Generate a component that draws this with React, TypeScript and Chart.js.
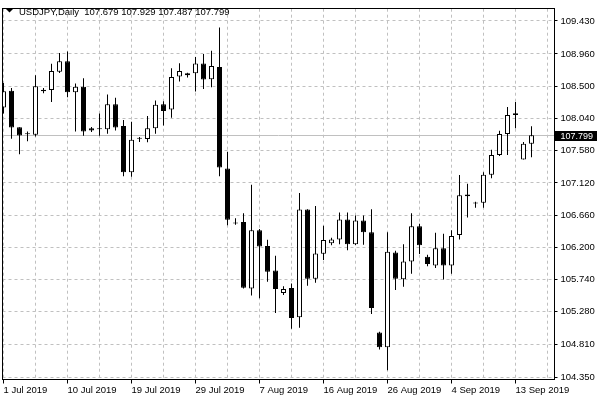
import { useEffect, useRef } from "react"
import { Chart, registerables, type ChartConfiguration } from "chart.js"

Chart.register(...registerables)

const symbol = "USDJPY,Daily"

// trading days (broker feed has Sunday bars)
const dates = [
  "2019-07-01", "2019-07-02", "2019-07-03", "2019-07-04", "2019-07-05", "2019-07-07", "2019-07-08", "2019-07-09",
  "2019-07-10", "2019-07-11", "2019-07-12", "2019-07-14", "2019-07-15", "2019-07-16", "2019-07-17", "2019-07-18",
  "2019-07-19", "2019-07-21", "2019-07-22", "2019-07-23", "2019-07-24", "2019-07-25", "2019-07-26", "2019-07-28",
  "2019-07-29", "2019-07-30", "2019-07-31", "2019-08-01", "2019-08-02", "2019-08-04", "2019-08-05", "2019-08-06",
  "2019-08-07", "2019-08-08", "2019-08-09", "2019-08-11", "2019-08-12", "2019-08-13", "2019-08-14", "2019-08-15",
  "2019-08-16", "2019-08-18", "2019-08-19", "2019-08-20", "2019-08-21", "2019-08-22", "2019-08-23", "2019-08-25",
  "2019-08-26", "2019-08-27", "2019-08-28", "2019-08-29", "2019-08-30", "2019-09-01", "2019-09-02", "2019-09-03",
  "2019-09-04", "2019-09-05", "2019-09-06", "2019-09-08", "2019-09-09", "2019-09-10", "2019-09-11", "2019-09-12",
  "2019-09-13", "2019-09-15", "2019-09-16",
]

const opens = [
  108.194, 108.436, 107.914, 107.817, 107.807, 108.45, 108.446, 108.707,
  108.856, 108.413, 108.492, 107.9, 107.886, 107.886, 108.241, 107.933,
  107.271, 107.751, 107.747, 107.9, 108.241, 108.166, 108.637, 108.656,
  108.684, 108.824, 108.6, 108.772, 107.327, 106.543, 106.561, 105.614,
  106.445, 106.221, 105.871, 105.549, 105.619, 105.204, 106.739, 105.754,
  106.109, 106.258, 106.314, 106.599, 106.244, 106.585, 106.417, 104.984,
  104.774, 106.127, 105.745, 105.997, 106.501, 106.067, 105.941, 106.188,
  105.941, 106.375, 106.953, 106.827, 106.837, 107.237, 107.517, 107.817,
  108.087, 107.453, 107.679,
]
const highs = [
  108.544, 108.474, 107.914, 107.853, 108.656, 108.474, 108.818, 108.972,
  108.996, 108.539, 108.614, 107.919, 108.11, 108.38, 108.334, 108.017,
  107.993, 107.775, 108.073, 108.297, 108.283, 108.754, 108.828, 108.69,
  108.916, 108.958, 109.006, 109.336, 107.565, 106.617, 106.687, 107.093,
  106.463, 106.309, 106.081, 105.647, 105.684, 106.977, 106.745, 106.789,
  106.509, 106.337, 106.697, 106.697, 106.655, 106.655, 106.743, 104.998,
  106.417, 106.151, 106.244, 106.687, 106.537, 106.095, 106.407, 106.393,
  106.445, 107.233, 107.107, 106.851, 107.271, 107.593, 107.863, 108.203,
  108.273, 107.705, 107.929,
]
const lows = [
  108.11, 107.751, 107.527, 107.713, 107.783, 108.399, 108.273, 108.688,
  108.343, 107.853, 107.793, 107.845, 107.793, 107.821, 107.867, 107.215,
  107.209, 107.705, 107.699, 107.821, 107.937, 108.049, 108.567, 108.623,
  108.422, 108.46, 108.483, 107.215, 106.515, 106.523, 105.614, 105.512,
  105.474, 105.708, 105.264, 105.522, 105.04, 105.054, 105.652, 105.694,
  106.02, 106.23, 106.244, 106.16, 106.235, 106.239, 105.25, 104.742,
  104.448, 105.591, 105.638, 105.824, 106.104, 105.932, 105.904, 105.74,
  105.824, 106.314, 106.627, 106.767, 106.767, 107.187, 107.503, 107.517,
  107.9, 107.453, 107.487,
]
const closes = [
  108.427, 107.909, 107.797, 107.815, 108.497, 108.427, 108.716, 108.856,
  108.413, 108.492, 107.853, 107.867, 107.884, 108.241, 107.909, 107.271,
  107.737, 107.749, 107.9, 108.236, 108.147, 108.632, 108.716, 108.684,
  108.824, 108.595, 108.786, 107.341, 106.593, 106.541, 105.624, 106.445,
  106.211, 105.852, 105.605, 105.605, 105.194, 106.739, 105.754, 106.113,
  106.305, 106.314, 106.599, 106.244, 106.585, 106.417, 105.334, 104.774,
  106.137, 105.754, 105.997, 106.501, 106.23, 105.964, 106.188, 105.941,
  106.361, 106.943, 106.929, 106.825, 107.237, 107.517, 107.817, 108.087,
  108.115, 107.679, 107.799,
]

const priceTicks = [
  104.35, 104.81, 105.28, 105.74, 106.2, 106.66, 107.12, 107.58, 108.04, 108.5, 108.96, 109.43,
]

const months = ["Jan", "Feb", "Mar", "Apr", "May", "Jun", "Jul", "Aug", "Sep", "Oct", "Nov", "Dec"]
const fmtDate = (s: string) => {
  const [y, m, d] = s.split("-")
  return `${Number(d)} ${months[Number(m) - 1]} ${y}`
}

const FONT = "Liberation Sans"

const overlay = {
  id: "overlay",
  beforeDatasetsDraw(chart: Chart) {
    const { ctx, chartArea: a } = chart
    const y = chart.scales.y
    const last = closes[closes.length - 1]
    const py = Math.floor(y.getPixelForValue(last)) + 0.5
    ctx.save()
    ctx.strokeStyle = "#c0c0c0"
    ctx.lineWidth = 1
    ctx.beginPath()
    ctx.moveTo(a.left, py)
    ctx.lineTo(a.right, py)
    ctx.stroke()
    ctx.restore()
  },
  afterDraw(chart: Chart) {
    const { ctx, chartArea: a } = chart
    const y = chart.scales.y
    const n = closes.length - 1
    ctx.save()
    // frame
    ctx.strokeStyle = "#000"
    ctx.lineWidth = 1
    ctx.strokeRect(Math.floor(a.left) + 0.5, Math.floor(a.top) + 0.5, Math.floor(a.right) - Math.floor(a.left), Math.floor(a.bottom) - Math.floor(a.top))
    // header
    ctx.fillStyle = "#000"
    ctx.beginPath()
    ctx.moveTo(6, 9)
    ctx.lineTo(13, 9)
    ctx.lineTo(9.5, 12.5)
    ctx.closePath()
    ctx.fill()
    ctx.font = `9.5px "${FONT}"`
    ctx.textBaseline = "alphabetic"
    ctx.textAlign = "left"
    const f = (v: number) => v.toFixed(3)
    ctx.fillText(`${symbol}  ${f(opens[n])} ${f(highs[n])} ${f(lows[n])} ${f(closes[n])}`, 19, 15)
    // last price tag
    const py = Math.floor(y.getPixelForValue(closes[n]))
    ctx.fillStyle = "#000"
    ctx.fillRect(Math.floor(a.right) + 1, py - 4, 42, 10)
    ctx.fillStyle = "#fff"
    ctx.font = `9px "${FONT}"`
    ctx.textBaseline = "middle"
    ctx.fillText(f(closes[n]), 560.5, py + 1.5)
    ctx.restore()
  },
}

export default function App() {
  const canvasRef = useRef<HTMLCanvasElement>(null)
  const chartRef = useRef<Chart | null>(null)

  useEffect(() => {
    if (!canvasRef.current) return
    if (chartRef.current) chartRef.current.destroy()

    const bodies = opens.map((o, i) => ({ x: i, y: [Math.min(o, closes[i]), Math.max(o, closes[i])] }))
    const wicks = lows.map((l, i) => ({ x: i, y: [l, highs[i]] }))
    const bodyColors = opens.map((o, i) => (closes[i] > o ? "#ffffff" : "#000000"))

    const config: ChartConfiguration = {
      type: "bar",
      data: {
        datasets: [
          {
            label: "body",
            data: bodies as any,
            backgroundColor: bodyColors,
            borderColor: "#000",
            borderWidth: 1,
            borderSkipped: false,
            barThickness: 5,
            minBarLength: 1,
            grouped: false,
            inflateAmount: 0,
            order: 1,
          } as any,
          {
            label: "wick",
            data: wicks as any,
            backgroundColor: "#000",
            borderWidth: 0,
            barThickness: 1,
            grouped: false,
            inflateAmount: 0,
            order: 2,
          } as any,
        ],
      },
      options: {
        responsive: true,
        maintainAspectRatio: false,
        animation: false,
        events: [],
        layout: { padding: { top: 1.5, left: 2.5, right: 0, bottom: 0 } },
        plugins: { legend: { display: false }, tooltip: { enabled: false } },
        scales: {
          x: {
            type: "linear",
            offset: false,
            min: -0.125,
            max: 68.875,
            afterBuildTicks: (s: any) => {
              s.ticks = Array.from({ length: 18 }, (_, k) => ({ value: k * 4 }))
            },
            afterFit: (s: any) => {
              s.height = 20.5
            },
            grid: {
              offset: false,
              color: "#c0c0c0",
              tickLength: 4,
              tickColor: (c: any) => (c.tick && c.tick.value % 8 === 0 ? "#000" : "rgba(0,0,0,0)"),
            },
            border: { color: "#000", dash: [3, 3] },
            ticks: {
              autoSkip: false,
              maxRotation: 0,
              align: "start",
              padding: 1,
              color: "#000",
              font: { family: FONT, size: 9.5 },
              callback: (v: any) => (v % 8 === 0 && dates[v] ? fmtDate(dates[v]) : ""),
            },
          },
          y: {
            type: "linear",
            position: "right",
            min: 104.315,
            max: 109.605,
            afterBuildTicks: (s: any) => {
              s.ticks = priceTicks.map((v) => ({ value: v }))
            },
            afterFit: (s: any) => {
              s.width = 45.5
            },
            grid: { color: "#c0c0c0", tickLength: 3, tickColor: "#000" },
            border: { color: "#000", dash: [3, 3] },
            ticks: {
              padding: 3,
              color: "#000",
              font: { family: FONT, size: 9.5 },
              callback: (v: any) => Number(v).toFixed(3),
            },
          },
        },
      },
      plugins: [overlay],
    }

    chartRef.current = new Chart(canvasRef.current, config)
    return () => {
      if (chartRef.current) chartRef.current.destroy()
    }
  }, [])

  return (
    <div style={{ position: "fixed", left: 0, top: 0, width: 600, height: 400, background: "#fff" }}>
      <canvas ref={canvasRef}></canvas>
    </div>
  )
}
